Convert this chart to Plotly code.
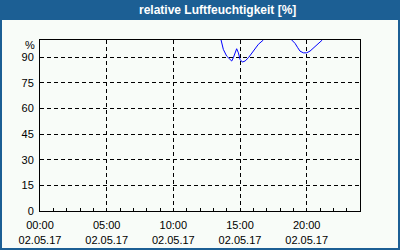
import plotly.graph_objects as go

# hours since 00:00 on 02.05.17 (None = line hidden at the top border, 100 %)
hours = [13.58, 13.75, 14.0, 14.25, 14.38, 14.5, 14.75, 14.88, 15.0, 15.17, 15.38,
         15.63, 16.0, 16.38, 16.75, None, 18.88, 19.13, 19.33, 19.5, 19.75, 20.0, 20.25,
         20.63, 21.0, 21.17]
humidity = [100, 94.5, 90.6, 88.7, 87.7, 89.6, 94.9, 92.5, 88.7, 87.1, 87.7,
            89.6, 93.5, 97.5, 100, None, 100, 98.0, 95.5, 93.5, 92.5, 92.5, 93.5,
            96.0, 98.8, 100]

x_tickvals = [0, 5, 10, 15, 20]
x_ticktext = ["00:00<br>02.05.17", "05:00<br>02.05.17", "10:00<br>02.05.17",
              "15:00<br>02.05.17", "20:00<br>02.05.17"]
y_tickvals = [0, 15, 30, 45, 60, 75, 90]

title_text = "relative Luftfeuchtigkeit [%]"
unit_text = "%"

W, H = 400, 250
L, R, T, B = 40, 40, 40, 39
pw, ph = W - L - R, H - T - B

def px_x(x):
    return (x - L) / pw

def px_y(y):
    return (H - B - y) / ph

BLUE = "#1c5f94"
BG = "#f8fcf8"
FONT = "Liberation Sans"

fig = go.Figure()
fig.add_trace(go.Scatter(x=hours, y=humidity, mode="lines", connectgaps=False,
                         line=dict(color="#0000ff", width=1), hoverinfo="skip"))

fig.update_layout(
    width=W, height=H,
    margin=dict(l=L, r=R, t=T, b=B, pad=0, autoexpand=False),
    paper_bgcolor=BG, plot_bgcolor=BG,
    showlegend=False,
    font=dict(family=FONT, size=11, color="black"),
)

fig.update_xaxes(
    range=[0, 24], tickvals=x_tickvals, ticktext=x_ticktext, automargin=False,
    showline=True, mirror=True, linecolor="black", linewidth=1,
    showgrid=True, gridcolor="black", gridwidth=1, griddash="4px,3px",
    ticks="inside", ticklen=3, tickcolor="black", ticklabelstandoff=4,
    minor=dict(dtick=1, tick0=0, ticks="inside", ticklen=3, tickcolor="black", showgrid=False),
    zeroline=False, tickfont=dict(family=FONT, size=11, color="black"),
)
fig.update_yaxes(
    range=[0, 100], tickvals=y_tickvals, automargin=False,
    showline=True, mirror=True, linecolor="black", linewidth=1,
    showgrid=True, gridcolor="black", gridwidth=1, griddash="4px,3px",
    ticks="", zeroline=False, ticklabelstandoff=3,
    tickfont=dict(family=FONT, size=11, color="black"),
)

# title bar
fig.add_shape(type="rect", xref="paper", yref="paper",
              x0=px_x(0), x1=px_x(W), y0=px_y(20), y1=px_y(0),
              fillcolor=BLUE, line=dict(width=0), layer="above")
# outer border
fig.add_shape(type="rect", xref="paper", yref="paper",
              x0=px_x(1), x1=px_x(W - 1), y0=px_y(H - 1), y1=px_y(1),
              fillcolor="rgba(0,0,0,0)", line=dict(color=BLUE, width=2), layer="above")

fig.add_annotation(text="<b>" + title_text + "</b>", xref="paper", yref="paper",
                   x=px_x(217), y=px_y(10.5), xanchor="center", yanchor="middle",
                   showarrow=False, font=dict(family=FONT, size=12, color="white"))
fig.add_annotation(text=unit_text, xref="paper", yref="paper",
                   x=px_x(30), y=px_y(45), xanchor="center", yanchor="middle",
                   showarrow=False, font=dict(family=FONT, size=11, color="black"))

fig.write_html("out.html")
